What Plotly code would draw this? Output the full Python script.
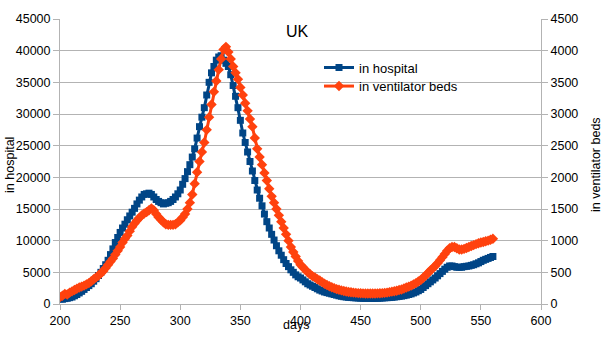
import plotly.graph_objects as go

days = list(range(200, 561, 2))

in_hospital = [
    800, 750, 850, 900, 1000, 1100, 1300, 1500, 1750, 2000,
    2300, 2600, 2900, 3200, 3600, 4000, 4500, 5000, 5600, 6200,
    6900, 7800, 8700, 9700, 10500, 11300, 12000, 12600, 13300, 13900,
    14500, 15100, 15800, 16400, 16900, 17300, 17400, 17500, 17300, 16900,
    16500, 16200, 16000, 15800, 15900, 16000, 16200, 16500, 16900, 17400,
    18000, 18900, 19800, 20900, 22000, 23200, 24500, 26200, 28000, 29500,
    31000, 33000, 35000, 36500, 37500, 38500, 39000, 39200, 38500, 38000,
    37500, 36200, 34500, 32800, 31000, 29000, 27000, 25500, 24000, 22500,
    21000, 19500, 18000, 16700, 15500, 14200, 13000, 12000, 11000, 10100,
    9200, 8400, 7700, 7000, 6400, 5900, 5400, 5000, 4600, 4300,
    4100, 3800, 3500, 3200, 3000, 2800, 2600, 2400, 2200, 2050,
    1900, 1800, 1700, 1600, 1500, 1400, 1300, 1220, 1150, 1100,
    1050, 1020, 1000, 970, 950, 920, 900, 900, 900, 890,
    880, 890, 900, 920, 950, 980, 1000, 1020, 1050, 1100,
    1150, 1200, 1250, 1320, 1400, 1500, 1600, 1750, 1900, 2100,
    2300, 2600, 2900, 3200, 3500, 3800, 4100, 4450, 4800, 5150,
    5500, 5800, 6000, 6000, 5900, 5800, 5800, 5800, 5900, 5950,
    6000, 6100, 6200, 6350, 6500, 6700, 6900, 7050, 7200, 7350,
    7500,
]

in_ventilator = [
    110, 130, 160, 150, 180, 200, 220, 240, 260, 275,
    290, 310, 330, 360, 390, 420, 450, 485, 520, 570,
    620, 670, 720, 780, 840, 900, 970, 1030, 1080, 1150,
    1220, 1270, 1320, 1360, 1400, 1430, 1450, 1480, 1510, 1480,
    1420, 1370, 1330, 1290, 1260, 1250, 1250, 1250, 1260, 1290,
    1320, 1370, 1420, 1500, 1600, 1730, 1900, 2080, 2250, 2400,
    2550, 2750, 2950, 3150, 3350, 3520, 3700, 3870, 4020, 4060,
    3980, 3870, 3750, 3650, 3550, 3420, 3300, 3170, 3050, 2920,
    2800, 2620, 2450, 2320, 2200, 2070, 1950, 1820, 1700, 1600,
    1500, 1400, 1300, 1200, 1100, 1000, 900, 820, 750, 680,
    620, 580, 540, 500, 470, 440, 420, 390, 370, 345,
    320, 300, 280, 265, 250, 235, 225, 215, 205, 198,
    190, 185, 180, 176, 172, 170, 168, 166, 165, 165,
    165, 166, 168, 170, 172, 176, 180, 188, 195, 202,
    210, 220, 230, 245, 260, 275, 290, 310, 330, 355,
    380, 415, 450, 490, 530, 565, 600, 645, 690, 740,
    790, 840, 880, 900, 900, 880, 860, 860, 870, 885,
    900, 915, 930, 945, 960, 970, 980, 990, 1000, 1015,
    1030,
]

BLUE = "#004586"
ORANGE = "#ff420e"
GRID = "#b3b3b3"
FONT = "Liberation Sans, Arial, sans-serif"

fig = go.Figure()
fig.add_trace(go.Scatter(
    x=days, y=in_hospital, name="in hospital", mode="lines+markers",
    line=dict(color=BLUE, width=3),
    marker=dict(symbol="square", size=7, color=BLUE),
    yaxis="y", legend="legend",
))
fig.add_trace(go.Scatter(
    x=days, y=in_ventilator, name="in ventilator beds", mode="lines+markers",
    line=dict(color=ORANGE, width=3),
    marker=dict(symbol="diamond", size=8, color=ORANGE),
    yaxis="y2", legend="legend2",
))

L, R, T, B = 60, 64, 15, 32
W, H = 605, 340

def px_to_paper_x(px):
    return (px - L) / (W - L - R)

def px_to_paper_y(py):
    return (H - B - py) / (H - T - B)

leg_common = dict(xanchor="left", yanchor="middle",
                  bgcolor="rgba(0,0,0,0)", font=dict(size=13))

fig.update_layout(
    width=W, height=H,
    margin=dict(l=L, r=R, t=T, b=B),
    paper_bgcolor="white", plot_bgcolor="white",
    font=dict(family=FONT, size=12.5, color="black"),
    showlegend=True,
    legend=dict(x=px_to_paper_x(319), y=px_to_paper_y(65), **leg_common),
    legend2=dict(x=px_to_paper_x(319), y=px_to_paper_y(84), **leg_common),
    xaxis=dict(
        range=[200, 600], dtick=50, tick0=200,
        showgrid=False, zeroline=False,
        showline=True, linecolor=GRID, linewidth=1,
        ticks="outside", ticklen=5, tickcolor=GRID,
    ),
    yaxis=dict(
        range=[0, 45000], dtick=5000, tick0=0, tickformat="d",
        showgrid=True, gridcolor=GRID, gridwidth=1, zeroline=False,
        showline=True, linecolor=GRID, linewidth=1,
        ticks="outside", ticklen=6, tickcolor=GRID,
    ),
    yaxis2=dict(
        range=[0, 4500], dtick=500, tick0=0, tickformat="d",
        overlaying="y", side="right",
        showgrid=False, zeroline=False,
        showline=True, linecolor=GRID, linewidth=1,
        ticks="outside", ticklen=6, tickcolor=GRID,
    ),
)

ann = dict(xref="paper", yref="paper", showarrow=False,
           xanchor="center", yanchor="middle")
fig.add_annotation(text="UK", x=px_to_paper_x(297), y=px_to_paper_y(28),
                   font=dict(size=16), **ann)
fig.add_annotation(text="in hospital", x=px_to_paper_x(10), y=px_to_paper_y(165),
                   textangle=-90, font=dict(size=12.5), **ann)
fig.add_annotation(text="in ventilator beds", x=px_to_paper_x(596), y=px_to_paper_y(165),
                   textangle=-90, font=dict(size=12.5), **ann)
fig.add_annotation(text="days", x=px_to_paper_x(296), y=px_to_paper_y(330),
                   font=dict(size=12.5), **ann)

fig.write_html("out.html")
